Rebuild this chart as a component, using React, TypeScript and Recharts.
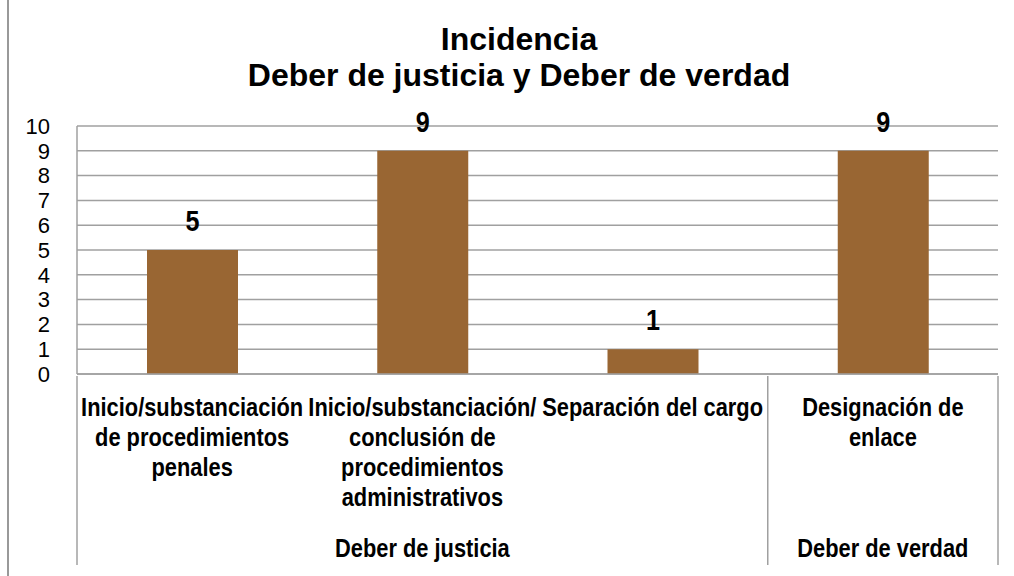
import React from 'react'
import { BarChart, Bar, XAxis, YAxis, CartesianGrid, LabelList } from 'recharts'

// categories (explicit line breaks as in the original labels)
const categories = [
  'Inicio/substanciación\nde procedimientos\npenales',
  'Inicio/substanciación/\nconclusión de\nprocedimientos\nadministrativos',
  'Separación del cargo',
  'Designación de\nenlace',
]
const groups = ['Deber de justicia', 'Deber de justicia', 'Deber de justicia', 'Deber de verdad']
const values = [5, 9, 1, 9]
const yTicks = [0, 1, 2, 3, 4, 5, 6, 7, 8, 9, 10]
const titleLines = ['Incidencia', 'Deber de justicia y Deber de verdad']

const data = categories.map((name, i) => ({ name, group: groups[i], value: values[i] }))

const W = 1014
const H = 576
const Y_AXIS_W = 77
const RIGHT = 16
const TOP = 126
const X_AXIS_H = 202
const PLOT_W = W - Y_AXIS_W - RIGHT

const GRAY = '#a0a0a0'
const SANS = "'Liberation Sans', Arial, sans-serif"
const SQUEEZE = 0.84 // no narrow font installed, so squeeze the bold sans

const NarrowText = ({ x, y, size, children }: { x: number; y: number; size: number; children: React.ReactNode }) => (
  <text transform={`translate(${x},${y}) scale(${SQUEEZE},1)`} textAnchor="middle"
    fontFamily={SANS} fontWeight="bold" fontSize={size} fill="#000">{children}</text>
)

const CategoryTick = (props: any) => {
  const { x, y, payload, index } = props
  const lines: string[] = String(payload.value).split('\n')
  const bw = PLOT_W / categories.length
  const left = x - bw / 2
  const g = groups[index]
  const isStart = index === 0 || groups[index - 1] !== g
  const span = groups.filter((v) => v === g).length
  const isLast = index === categories.length - 1
  return (
    <g>
      {lines.map((l, i) => (
        <NarrowText key={i} x={x} y={y + 40 + i * 30} size={26}>{l}</NarrowText>
      ))}
      {isStart && <line x1={left} x2={left} y1={y} y2={y + 189} stroke={GRAY} strokeWidth={1.5} />}
      {isStart && <NarrowText x={left + (span * bw) / 2} y={y + 181} size={26}>{g}</NarrowText>}
      {isLast && <line x1={x + bw / 2} x2={x + bw / 2} y1={y} y2={y + 189} stroke={GRAY} strokeWidth={1.5} />}
    </g>
  )
}

const ValueLabel = (props: any) => {
  const { x, y, width, value } = props
  return <NarrowText x={x + width / 2} y={y - 19} size={30}>{value}</NarrowText>
}

export default function App() {
  return (
    <div style={{ position: 'absolute', left: 0, top: 0, width: W, height: H, background: '#fff' }}>
      <div style={{ position: 'absolute', left: 7, top: 0, width: 1.5, height: H, background: '#999' }} />
      <div style={{
        position: 'absolute', left: 519, top: 21, transform: 'translateX(-50%)',
        whiteSpace: 'nowrap', textAlign: 'center', fontFamily: SANS, fontWeight: 'bold',
        fontSize: 32, lineHeight: '36px', color: '#000',
      }}>
        {titleLines.map((t) => <div key={t}>{t}</div>)}
      </div>
      <BarChart width={W} height={H} data={data}
        margin={{ top: TOP, right: RIGHT, bottom: 0, left: 0 }}>
        <CartesianGrid vertical={false} stroke={GRAY} strokeWidth={1.5} />
        <XAxis dataKey="name" height={X_AXIS_H} interval={0} tickLine={false} tickSize={0}
          axisLine={{ stroke: GRAY, strokeWidth: 1.5 }} tick={<CategoryTick />} />
        <YAxis width={Y_AXIS_W} domain={[0, 10]} ticks={yTicks} interval={0}
          tickLine={false} tickSize={0} tickMargin={27}
          axisLine={{ stroke: GRAY, strokeWidth: 1.5 }}
          tick={{ fontSize: 22, fill: '#000', fontFamily: SANS }} />
        <Bar dataKey="value" fill="#996633" barSize={91} isAnimationActive={false}>
          <LabelList dataKey="value" content={<ValueLabel />} />
        </Bar>
      </BarChart>
    </div>
  )
}
